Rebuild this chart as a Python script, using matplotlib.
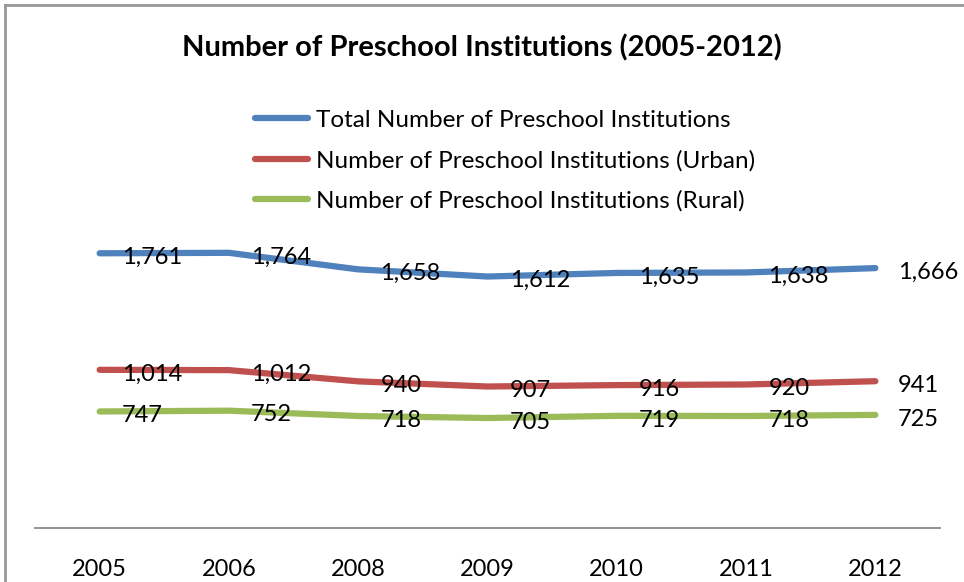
import matplotlib
matplotlib.use('Agg')
import matplotlib.pyplot as plt
from matplotlib.lines import Line2D

plt.rcParams['font.family'] = ['Lato', 'DejaVu Sans']

# Datos del grafico
years = ['2005', '2006', '2008', '2009', '2010', '2011', '2012']
total = [1761, 1764, 1658, 1612, 1635, 1638, 1666]
urban = [1014, 1012, 940, 907, 916, 920, 941]
rural = [747, 752, 718, 705, 719, 718, 725]

series = [
    ('Total Number of Preschool Institutions', total, '#4F81BD'),
    ('Number of Preschool Institutions (Urban)', urban, '#C0504D'),
    ('Number of Preschool Institutions (Rural)', rural, '#9BBB59'),
]

fig = plt.figure(figsize=(9.64, 5.82), dpi=100)
# plot area: x 35..940 px, y 0 at 528 px, 2000 at ~216 px
ax = fig.add_axes([35 / 964, (582 - 528) / 582, 905 / 964, (528 - 216) / 582])

x = list(range(len(years)))
handles = []
for name, vals, color in series:
    ax.plot(x, vals, color=color, lw=4.5, solid_joinstyle='round',
            solid_capstyle='round')
    handles.append(Line2D([0], [0], color=color, lw=4.5, solid_capstyle='round'))
    for xi, v in zip(x, vals):
        ax.annotate(f'{v:,}', (xi, v), xytext=(16, -3), textcoords='offset points',
                    ha='left', va='center', fontsize=17, color='black')

ax.set_xlim(-0.5, len(years) - 0.5)
ax.set_ylim(0, 2000)
ax.set_yticks([])
ax.set_xticks(x)
ax.set_xticklabels(years, fontsize=17)
ax.tick_params(axis='x', length=0, pad=22)
for s in ['top', 'left', 'right']:
    ax.spines[s].set_visible(False)
ax.spines['bottom'].set_color('#888888')
ax.spines['bottom'].set_linewidth(1.3)

fig.text(0.5, 1 - 48 / 582, 'Number of Preschool Institutions (2005-2012)',
         ha='center', va='center', fontsize=21, fontweight='bold')

leg = fig.legend(handles, [s[0] for s in series], loc='upper left',
                 bbox_to_anchor=(233 / 964, 1 - 88 / 582), frameon=False,
                 fontsize=17.5, handlelength=2.2, handletextpad=0.3,
                 labelspacing=0.78)

# borde del grafico
fig.add_artist(Line2D([5 / 964, 5 / 964], [0, 1 - 5 / 582], color='#999999', lw=2))
fig.add_artist(Line2D([5 / 964, 1], [1 - 5 / 582, 1 - 5 / 582], color='#999999', lw=2))

fig.savefig('out.png', dpi=100)
